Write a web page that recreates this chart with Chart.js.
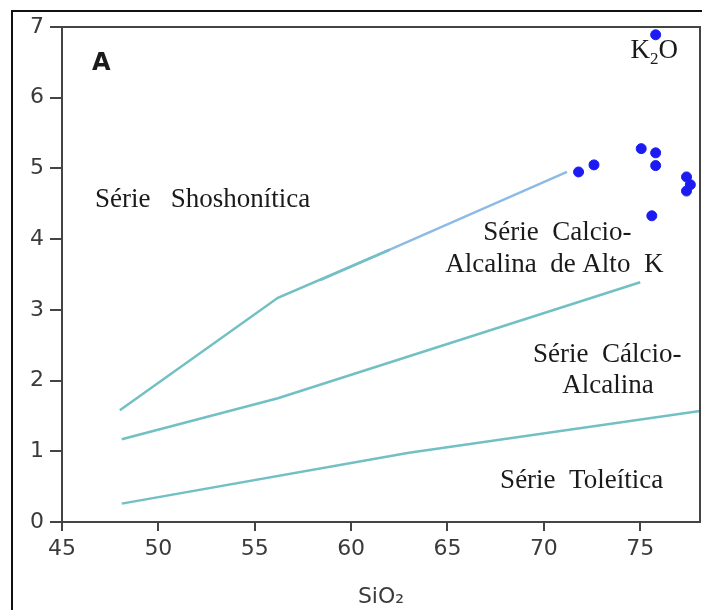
<!DOCTYPE html>
<html>
<head>
<meta charset="utf-8">
<script src="https://cdn.jsdelivr.net/npm/chart.js@4"></script>
<style>
  html, body { margin: 0; padding: 0; background: #fff; }
  #wrap { width: 702px; height: 610px; position: relative; }
</style>
</head>
<body>
<div id="wrap"><canvas id="k2oChart" width="702" height="610"></canvas></div>
<script>
const ctx = document.getElementById('k2oChart');

// amostras (SiO2 x K2O)
const sampleSiO2 = [71.8, 72.6, 75.05, 75.8, 75.8, 77.4, 77.6, 77.4, 75.6, 75.8];
const sampleK2O  = [4.95, 5.05, 5.28, 5.22, 5.04, 4.88, 4.77, 4.68, 4.33, 6.89];

// limites entre as series
const shoshSiO2a = [48, 56.2, 62];
const shoshK2Oa  = [1.58, 3.17, 3.85];
const shoshSiO2b = [58.4, 71.2];
const shoshK2Ob  = [3.42, 4.95];
const highKSiO2 = [48.1, 56.2, 75];
const highKK2O  = [1.17, 1.75, 3.39];
const tholSiO2 = [48.1, 63, 78.1];
const tholK2O  = [0.26, 0.98, 1.57];

const xTicks = [45, 50, 55, 60, 65, 70, 75];
const yTicks = [0, 1, 2, 3, 4, 5, 6, 7];

// rotulos dos campos
const fieldLabels = ['Série   Shoshonítica', 'Série  Calcio-', 'Alcalina  de Alto  K', 'Série  Cálcio-', 'Alcalina', 'Série  Toleítica'];
const fieldX = [46.71, 66.85, 64.88, 69.44, 70.95, 67.73];
const fieldY = [4.455, 3.99, 3.54, 2.26, 1.82, 0.48];

function pts(xs, ys) {
    return xs.map((x, i) => ({ x: x, y: ys[i] }));
}

function lineSet(xs, ys, color) {
    return {
        type: 'line',
        data: pts(xs, ys),
        borderColor: color,
        borderWidth: 2.5,
        pointRadius: 0,
        tension: 0,
        fill: false
    };
}

const annotate = {
    id: 'annotate',
    beforeDraw(chart) {
        const c = chart.ctx;
        c.save();
        c.strokeStyle = '#111';
        c.lineWidth = 2;
        c.strokeRect(12, 11, 700, 700);
        c.restore();
    },
    afterDraw(chart) {
        const c = chart.ctx;
        const a = chart.chartArea;
        const xs = chart.scales.x, ys = chart.scales.y;
        c.save();
        // moldura do grafico
        c.strokeStyle = '#444';
        c.lineWidth = 2;
        c.beginPath();
        c.moveTo(a.left, a.top);
        c.lineTo(a.right, a.top);
        c.lineTo(a.right, a.bottom);
        c.stroke();

        c.fillStyle = '#1a1a1a';
        c.textBaseline = 'alphabetic';
        c.textAlign = 'left';
        c.font = '27px "Liberation Serif"';
        fieldLabels.forEach((t, i) => {
            c.fillText(t, xs.getPixelForValue(fieldX[i]), ys.getPixelForValue(fieldY[i]));
        });

        c.font = 'bold 24px "DejaVu Sans"';
        c.fillText('A', xs.getPixelForValue(46.56), ys.getPixelForValue(6.39));

        const kx = xs.getPixelForValue(74.5), ky = ys.getPixelForValue(6.56);
        c.font = '27px "Liberation Serif"';
        c.fillText('K', kx, ky);
        let w = c.measureText('K').width;
        c.font = '17px "Liberation Serif"';
        c.fillText('2', kx + w, ky + 6);
        w += c.measureText('2').width;
        c.font = '27px "Liberation Serif"';
        c.fillText('O', kx + w, ky);
        c.restore();
    }
};

new Chart(ctx, {
    type: 'scatter',
    data: {
        datasets: [
            lineSet(shoshSiO2a, shoshK2Oa, '#72c0c4'),
            lineSet(shoshSiO2b, shoshK2Ob, '#8dbbe6'),
            lineSet(highKSiO2, highKK2O, '#72c0c4'),
            lineSet(tholSiO2, tholK2O, '#72c0c4'),
            {
                label: 'Amostras',
                data: pts(sampleSiO2, sampleK2O),
                backgroundColor: '#1c1cf2',
                borderColor: '#1c1cf2',
                pointRadius: 5,
                pointHoverRadius: 5
            }
        ]
    },
    options: {
        responsive: false,
        animation: false,
        layout: { autoPadding: false, padding: { top: 27, right: 2, left: 0, bottom: 0 } },
        plugins: {
            legend: false,
            tooltip: { enabled: false }
        },
        scales: {
            x: {
                type: 'linear',
                min: 45,
                max: 78.1,
                afterBuildTicks: (s) => { s.ticks = xTicks.map(v => ({ value: v })); },
                afterFit: (s) => { s.height = 88; },
                border: { color: '#444', width: 2 },
                grid: { drawOnChartArea: false, tickLength: 9, color: '#444', lineWidth: 2 },
                ticks: { color: '#3a3a3a', padding: 5, font: { family: 'DejaVu Sans', size: 22 } },
                title: {
                    display: true,
                    text: 'SiO₂',
                    color: '#3a3a3a',
                    padding: { top: 6, bottom: 0 },
                    font: { family: 'DejaVu Sans', size: 22 }
                }
            },
            y: {
                min: 0,
                max: 7,
                afterBuildTicks: (s) => { s.ticks = yTicks.map(v => ({ value: v })); },
                afterFit: (s) => { s.width = 62; },
                border: { color: '#444', width: 2 },
                grid: { drawOnChartArea: false, tickLength: 12, color: '#444', lineWidth: 2 },
                ticks: { color: '#3a3a3a', padding: 6, font: { family: 'DejaVu Sans', size: 22 } }
            }
        }
    },
    plugins: [annotate]
});
</script>
</body>
</html>
